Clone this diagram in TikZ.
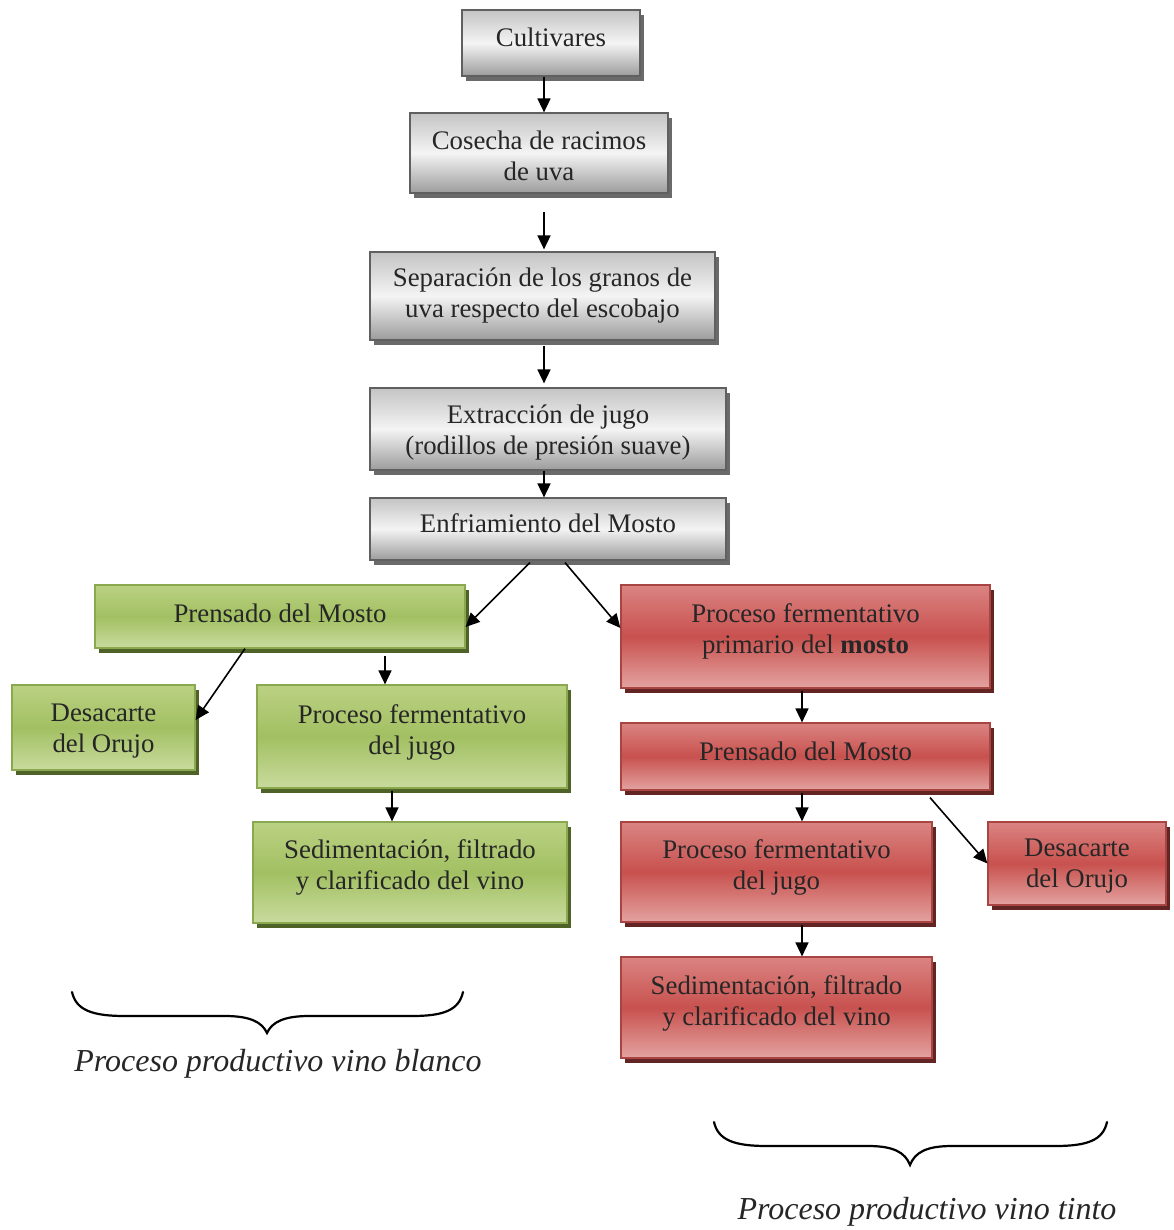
\documentclass[tikz,border=0pt]{standalone}
\usepackage{fontspec}
\setmainfont{Liberation Serif}
\usetikzlibrary{arrows.meta,shadows,calc}
\definecolor{gtop}{HTML}{C4C4C4}
\definecolor{gmid}{HTML}{F4F4F4}
\definecolor{gbot}{HTML}{9C9C9C}
\definecolor{gbd}{HTML}{606060}
\definecolor{gsh}{HTML}{6A6A6A}
\definecolor{ntop}{HTML}{BBD183}
\definecolor{nmid}{HTML}{A2C062}
\definecolor{nbot}{HTML}{C9DB9E}
\definecolor{nbd}{HTML}{8AA84E}
\definecolor{nsh}{HTML}{4F6228}
\definecolor{rtop}{HTML}{DA8482}
\definecolor{rmid}{HTML}{C8514E}
\definecolor{rbot}{HTML}{E3A3A1}
\definecolor{rbd}{HTML}{A84442}
\definecolor{rsh}{HTML}{632523}
\tikzset{
  box/.style={rectangle, draw, line width=0.6pt, inner sep=0pt},
  boxtext/.style={inner sep=0pt, align=center, text=black!85,
    font=\fontsize{13.4}{15.5}\selectfont},
  graybox/.style={box, draw=gbd, top color=gtop, bottom color=gbot, middle color=gmid,
    drop shadow={shadow xshift=2pt, shadow yshift=-2.5pt, fill=gsh, opacity=1}},
  greenbox/.style={box, draw=nbd, top color=ntop, bottom color=nbot, middle color=nmid,
    drop shadow={shadow xshift=2pt, shadow yshift=-2.5pt, fill=nsh, opacity=1}},
  redbox/.style={box, draw=rbd, top color=rtop, bottom color=rbot, middle color=rmid,
    drop shadow={shadow xshift=2pt, shadow yshift=-2.5pt, fill=rsh, opacity=1}},
  arr/.style={line width=0.8pt, -{Triangle[length=7pt,width=6.5pt]}},
  bracestyle/.style={line width=1.1pt, line cap=round},
  caption/.style={font=\fontsize{16}{18}\selectfont\itshape, text=black!85}
}
% #1 name, #2 style, #3-#6 box corners (px), #7 text, #8 text raise (px)
\newcommand\bx[8]{%
  \node[#2, minimum width={(#5-#3)*0.5pt}, minimum height={(#6-#4)*0.5pt}]
    (#1) at ({(#3+#5)/2},{(#4+#6)/2}) {};
  \node[boxtext] (#1-t) at ([yshift={#8*0.5pt}]#1.center) {#7};}
\begin{document}
\begin{tikzpicture}[x=0.5pt,y=-0.5pt]
\useasboundingbox (0,0) rectangle (1173,1230);
% gray column
\bx{cult}{graybox}{462}{10}{640}{76}{Cultivares}{6}
\bx{cos}{graybox}{410}{113}{668}{193}{Cosecha de racimos\\de uva}{-3}
\bx{sep}{graybox}{370}{252}{715}{340}{Separación de los granos de\\uva respecto del escobajo}{0}
\bx{ext}{graybox}{370}{388}{726}{470}{Extracción de jugo\\(rodillos de presión suave)}{-4}
\bx{enf}{graybox}{370}{498}{726}{560}{Enfriamiento del Mosto}{6}
% green branch
\bx{gp}{greenbox}{95}{585}{465}{648}{Prensado del Mosto}{3}
\bx{gd}{greenbox}{12}{685}{195}{770}{Desacarte\\del Orujo}{-4}
\bx{gj}{greenbox}{257}{685}{567}{788}{Proceso fermentativo\\del jugo}{4}
\bx{gs}{greenbox}{253}{822}{567}{923}{Sedimentación, filtrado\\y clarificado del vino}{5.5}
% red branch
\bx{rp}{redbox}{621}{585}{990}{688}{Proceso fermentativo\\primario del \textbf{mosto}}{5.5}
\bx{rpr}{redbox}{621}{723}{990}{790}{Prensado del Mosto}{5}
\bx{rj}{redbox}{621}{822}{932}{922}{Proceso fermentativo\\del jugo}{4.5}
\bx{rd}{redbox}{988}{822}{1166}{905}{Desacarte\\del Orujo}{-3}
\bx{rs}{redbox}{621}{957}{932}{1058}{Sedimentación, filtrado\\y clarificado del vino}{4.5}
% arrow columns
\coordinate (ax) at (544,0);
\coordinate (gx1) at (385,0);
\coordinate (gx2) at (392,0);
\coordinate (rx) at (802,0);
% arrows
\draw[arr] (cult.south -| ax) -- (cos.north -| ax);
\draw[arr, shorten <=9pt, shorten >=1pt] (cos.south -| ax) -- (sep.north -| ax);
\draw[arr, shorten <=2.5pt, shorten >=2pt] (sep.south -| ax) -- (ext.north -| ax);
\draw[arr] (ext.south -| ax) -- (enf.north -| ax);
\draw[arr] ([xshift=-9pt,yshift=-1pt]enf.south) -- ([yshift=-5.25pt]gp.east);
\draw[arr] ([xshift=8.5pt,yshift=-1pt]enf.south) -- ([yshift=4.25pt]rp.west);
\draw[arr] ([xshift=-17.5pt]gp.south) -- ([yshift=3.75pt]gd.east);
\draw[arr, shorten <=3.5pt] (gp.south -| gx1) -- (gj.north -| gx1);
\draw[arr, shorten <=1pt] (gj.south -| gx2) -- (gs.north -| gx2);
\draw[arr, shorten <=1pt] (rp.south -| rx) -- (rpr.north -| rx);
\draw[arr, shorten <=1pt] (rpr.south -| rx) -- (rj.north -| rx);
\draw[arr] ([xshift=62.25pt,yshift=-3.5pt]rpr.south) -- (rd.west);
\draw[arr, shorten <=1pt] (rj.south -| rx) -- (rs.north -| rx);
% braces
\draw[bracestyle] (72,992) .. controls (76,1010) and (92,1016) .. (125,1016)
  -- (225,1016) .. controls (250,1016) and (262,1022) .. (267,1033)
  .. controls (272,1022) and (284,1016) .. (309,1016)
  -- (412,1016) .. controls (444,1016) and (459,1010) .. (463,992);
\draw[bracestyle] (714,1122) .. controls (718,1140) and (734,1146) .. (767,1146)
  -- (868,1146) .. controls (893,1146) and (905,1152) .. (910,1165)
  .. controls (915,1152) and (927,1146) .. (952,1146)
  -- (1055,1146) .. controls (1088,1146) and (1103,1140) .. (1107,1122);
\node[caption] (capw) at (278,1064) {Proceso productivo vino blanco};
\node[caption] (capt) at (927,1212) {Proceso productivo vino tinto};
\end{tikzpicture}
\end{document}
